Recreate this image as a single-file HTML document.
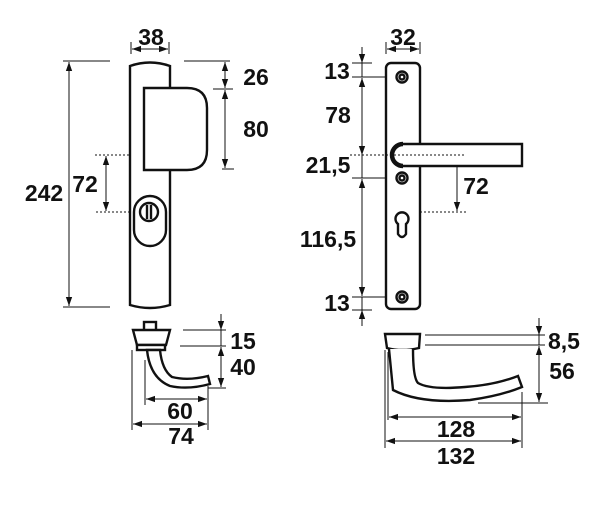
<!DOCTYPE html>
<html><head><style>html,body{margin:0;padding:0;background:#fff}svg{display:block}</style></head><body>
<svg width="600" height="507" viewBox="0 0 600 507" xmlns="http://www.w3.org/2000/svg">
<defs>
<marker id="a" viewBox="0 0 10 10" refX="10" refY="5" markerWidth="9" markerHeight="9" markerUnits="userSpaceOnUse" orient="auto-start-reverse"><path d="M0,1.5 L10,5 L0,8.5z" fill="#111"/></marker>
</defs>
<g font-family="Liberation Sans, sans-serif" font-weight="bold" font-size="23" fill="#111" text-anchor="middle">
<text x="151" y="45">38</text>
<text x="44" y="201">242</text>
<text x="85" y="192">72</text>
<text x="256" y="85">26</text>
<text x="256" y="137">80</text>
<text x="403" y="45">32</text>
<text x="337" y="79">13</text>
<text x="338" y="123">78</text>
<text x="328" y="173">21,5</text>
<text x="328" y="247">116,5</text>
<text x="337" y="311">13</text>
<text x="476" y="194">72</text>
<text x="243" y="349">15</text>
<text x="243" y="375">40</text>
<text x="180" y="419">60</text>
<text x="181" y="444">74</text>
<text x="564" y="349">8,5</text>
<text x="562" y="379">56</text>
<text x="456" y="437">128</text>
<text x="456" y="464">132</text>
</g>
<g fill="none" stroke="#111" stroke-width="1">
<line x1="131" y1="42" x2="131" y2="54"/><line x1="169" y1="42" x2="169" y2="54"/>
<line x1="132" y1="49" x2="168" y2="49" marker-start="url(#a)" marker-end="url(#a)"/>
<line x1="63" y1="61" x2="110" y2="61"/><line x1="63" y1="307" x2="110" y2="307"/>
<line x1="69" y1="62" x2="69" y2="306" marker-start="url(#a)" marker-end="url(#a)"/>
<line x1="184" y1="61" x2="230" y2="61"/><line x1="213" y1="89" x2="233" y2="89"/><line x1="222" y1="169" x2="234" y2="169"/>
<line x1="225" y1="62" x2="225" y2="88" marker-start="url(#a)" marker-end="url(#a)"/>
<line x1="225" y1="90" x2="225" y2="168" marker-start="url(#a)" marker-end="url(#a)"/>
<line x1="95" y1="155" x2="157" y2="155" stroke-dasharray="2,2"/>
<line x1="96" y1="212" x2="140" y2="212" stroke-dasharray="2,2"/>
<line x1="106" y1="156" x2="106" y2="211" marker-start="url(#a)" marker-end="url(#a)"/>
<line x1="386" y1="42" x2="386" y2="54"/><line x1="420" y1="42" x2="420" y2="54"/>
<line x1="387" y1="49" x2="419" y2="49" marker-start="url(#a)" marker-end="url(#a)"/>
<line x1="352" y1="63" x2="372" y2="63"/><line x1="352" y1="77" x2="402" y2="77"/>
<line x1="352" y1="178" x2="402" y2="178"/><line x1="352" y1="297" x2="402" y2="297"/><line x1="352" y1="310" x2="372" y2="310"/>
<line x1="362" y1="47" x2="362" y2="63" marker-end="url(#a)"/>
<line x1="362" y1="63" x2="362" y2="77"/>
<line x1="362" y1="78" x2="362" y2="155" marker-start="url(#a)" marker-end="url(#a)"/>
<line x1="362" y1="155" x2="362" y2="178"/>
<line x1="362" y1="179" x2="362" y2="296" marker-start="url(#a)" marker-end="url(#a)"/>
<line x1="362" y1="297" x2="362" y2="310"/>
<line x1="362" y1="326" x2="362" y2="310" marker-end="url(#a)"/>
<line x1="412" y1="212" x2="466" y2="212" stroke-dasharray="2,2"/>
<line x1="457" y1="156" x2="457" y2="211" marker-start="url(#a)" marker-end="url(#a)"/>
<line x1="183" y1="330" x2="226" y2="330"/><line x1="180" y1="346" x2="226" y2="346"/><line x1="208" y1="388" x2="226" y2="388"/>
<line x1="221" y1="314" x2="221" y2="330" marker-end="url(#a)"/>
<line x1="221" y1="330" x2="221" y2="346"/>
<line x1="221" y1="347" x2="221" y2="387" marker-start="url(#a)" marker-end="url(#a)"/>
<line x1="132" y1="350" x2="132" y2="430"/><line x1="145" y1="360" x2="145" y2="405"/><line x1="208" y1="386" x2="208" y2="430"/>
<line x1="146" y1="399" x2="207" y2="399" marker-start="url(#a)" marker-end="url(#a)"/>
<line x1="133" y1="424" x2="207" y2="424" marker-start="url(#a)" marker-end="url(#a)"/>
<line x1="425" y1="335" x2="545" y2="335"/><line x1="425" y1="345" x2="545" y2="345"/><line x1="478" y1="403" x2="548" y2="403"/>
<line x1="539" y1="318" x2="539" y2="335" marker-end="url(#a)"/>
<line x1="539" y1="335" x2="539" y2="345"/>
<line x1="539" y1="346" x2="539" y2="402" marker-start="url(#a)" marker-end="url(#a)"/>
<line x1="385" y1="350" x2="385" y2="448"/><line x1="388" y1="352" x2="388" y2="420"/><line x1="522" y1="392" x2="522" y2="448"/>
<line x1="389" y1="417" x2="521" y2="417" marker-start="url(#a)" marker-end="url(#a)"/>
<line x1="386" y1="441" x2="521" y2="441" marker-start="url(#a)" marker-end="url(#a)"/>
</g>
<g fill="#fff" stroke="#111" stroke-width="2.4">
<path d="M130,66 Q150,59 170,66 L170,305 Q150,311 130,305 Z"/>
<path d="M144,88 L187,88 Q207,88 207,108 L207,150 Q207,170 187,170 L144,170 Z"/>
<rect x="134" y="196" width="32" height="50" rx="16"/>
<circle cx="149" cy="212" r="9"/>
<line x1="147" y1="205" x2="147" y2="219"/><line x1="151" y1="205" x2="151" y2="219"/>
<rect x="386" y="63" width="34" height="246" rx="5"/>
<circle cx="402" cy="77" r="5.5"/><circle cx="402" cy="77" r="2.5"/>
<circle cx="402" cy="178" r="5.5"/><circle cx="402" cy="178" r="2.5"/>
<circle cx="402" cy="297" r="5.5"/><circle cx="402" cy="297" r="2.5"/>
<path d="M398,224 A6.5,6.5 0 1 1 406,224 L406,234 Q402,240 398,234 Z"/>
<path d="M403,144 L522,144 L522,166 L403,166 A11,11 0 0 1 403,144 Z"/>
<path d="M403,144 A11,11 0 0 0 403,166" stroke-width="4.5"/>
<rect x="144" y="322" width="12" height="9"/>
<path d="M133,330 L170,330 L166,345 L137,345 Z"/>
<rect x="137" y="345" width="28" height="5"/>
<path d="M147,350 Q150,378 170,386 Q188,390 210,384 L208,376 Q188,381 172,377 Q162,370 160,350 Z"/>
<path d="M385,334 L420,334 L419,348 Q402,352 387,348 Z"/>
<path d="M389,349 L393,390 Q420,404 470,400 Q500,396 522,387 L518,376 Q495,385 465,387 Q430,390 418,383 Q413,378 413,349"/>
</g>
<line x1="350" y1="155" x2="466" y2="155" stroke="#111" stroke-width="1" stroke-dasharray="2,2"/>
</svg>
</body></html>
